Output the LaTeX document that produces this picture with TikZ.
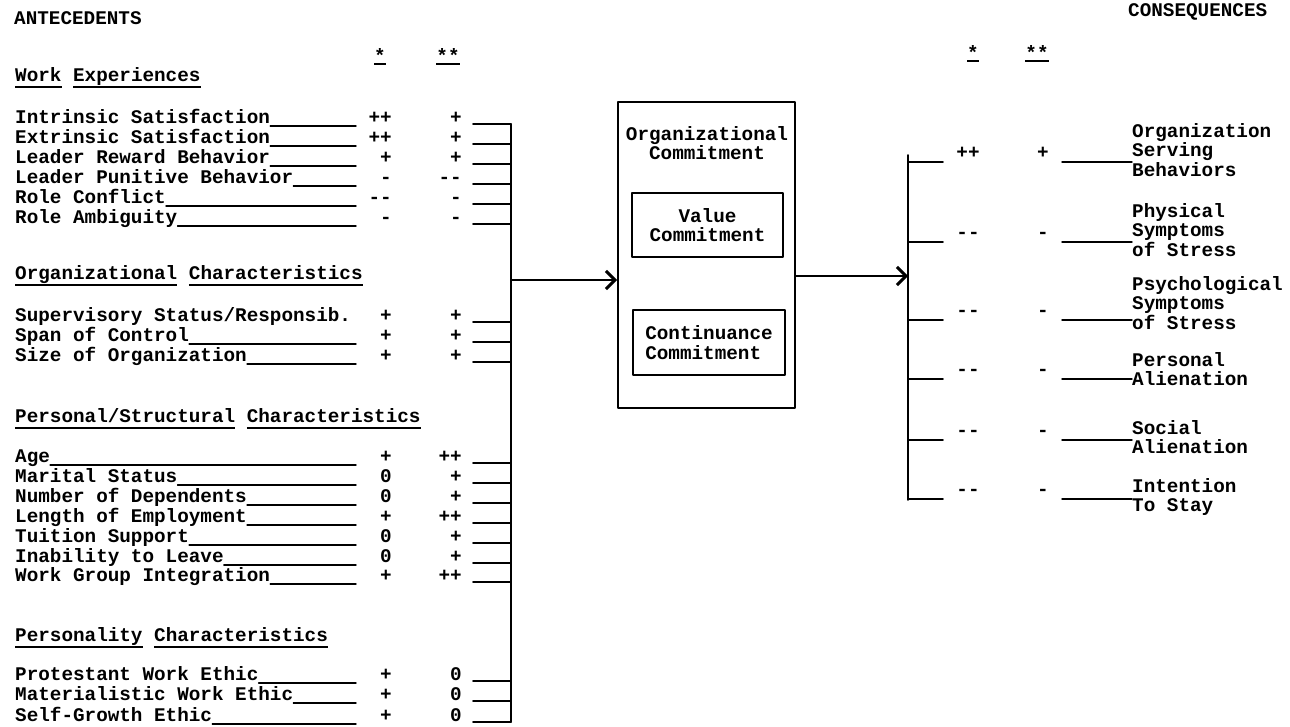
\documentclass[tikz,border=0pt]{standalone}
\usepackage{fontspec}
\setmonofont{Liberation Mono}
\usetikzlibrary{arrows.meta}
% typewriter style underline, one word at a time
\newcommand\uword[2][7pt]{\setbox0\hbox{#2}\rlap{\rule[-#1]{\wd0}{1.6pt}}\box0\relax}
\begin{document}
\begin{tikzpicture}[x=1pt,y=-1pt,line join=round,line cap=round,
	font=\ttfamily\bfseries\fontsize{19.3}{19.5}\selectfont,
	every node/.style={inner sep=0pt},
	lab/.style={anchor=base west},
	val/.style={anchor=base east},
	stub/.style={line width=1.8pt},
	lead/.style={line width=1.4pt},
	box/.style={draw,line width=1.8pt},
	arr/.style={line width=1.8pt,-{Straight Barb[length=9pt,width=18pt,line width=3pt]}}]
	\useasboundingbox (0,0) rectangle (1290,726);
	% Tieu de
	\node[lab] (ante) at (14,24) {ANTECEDENTS};
	\node[lab] (cons) at (1128,16) {CONSEQUENCES};
	\node[anchor=base] (s1) at (380,62) {\uword[3pt]{*}};
	\node[anchor=base] (s2) at (448,62) {\uword[3pt]{**}};
	\node[anchor=base] (s3) at (973,59) {\uword[3pt]{*}};
	\node[anchor=base] (s4) at (1037,59) {\uword[3pt]{**}};
	\node[lab] (g1) at (15,81) {\uword{Work} \uword{Experiences}};
	\node[lab] (g2) at (15,279) {\uword{Organizational} \uword{Characteristics}};
	\node[lab] (g3) at (15,422) {\uword{Personal/Structural} \uword{Characteristics}};
	\node[lab] (g4) at (15,641) {\uword{Personality} \uword{Characteristics}};
	% Cac thanh doc va mui ten
	\path
	(511,124) coordinate (lt)
	(511,722) coordinate (lb)
	(511,280) coordinate (lj)
	(908,155) coordinate (rt)
	(908,500) coordinate (rb)
	(908,276) coordinate (rj);
	\draw[stub] (lt) -- (lb);
	\draw[stub] (rt) -- (rb);
	% Khoi giua
	\node[box,minimum width=177pt,minimum height=306pt] (oc) at (706.5,255) {};
	\node[align=center] (oct) at (707,143) {Organizational\\Commitment};
	\node[box,align=center,minimum width=151pt,minimum height=64pt] (vc) at (707.5,225) {Value\\Commitment};
	\node[box,align=left,minimum width=152pt,minimum height=65pt] (cc) at (709,342.5) {Continuance\\Commitment};
	\draw[arr] (lj) -- (lj -| oc.west);
	\draw[arr] (rj -| oc.east) -- (rj);
	% Ben trai
	\foreach \y/\lab/\a/\b/\u [count=\i] in {
		123/Intrinsic Satisfaction/++/+/1,
		143/Extrinsic Satisfaction/++/+/1,
		163/Leader Reward Behavior/+/+/1,
		183/Leader Punitive Behavior/-/--/1,
		203/Role Conflict/--/-/1,
		223/Role Ambiguity/-/-/1,
		321/{Supervisory Status/Responsib.}/+/+/0,
		341/Span of Control/+/+/1,
		361/Size of Organization/+/+/1,
		462/Age/+/++/1,
		482/Marital Status/0/+/1,
		502/Number of Dependents/0/+/1,
		522/Length of Employment/+/++/1,
		542/Tuition Support/0/+/1,
		562/Inability to Leave/0/+/1,
		581/Work Group Integration/+/++/1,
		680/Protestant Work Ethic/+/0/1,
		700/Materialistic Work Ethic/+/0/1,
		721/Self-Growth Ethic/+/0/1}{
		\node[lab] (l\i) at (15,\y) {\lab};
		\node[val] (a\i) at (392,\y) {\a};
		\node[val] (b\i) at (462,\y) {\b};
		\ifnum\u=1 \draw[lead] ([yshift=-3pt]l\i.base east) -- (356,\y+3); \fi
		\draw[stub] (473,\y+1) -- (lt |- 0,\y+1);
	}
	% Ben phai
	\foreach \y/\a/\b/\lab/\m [count=\i] in {
		162/++/+/{Organization\\Serving\\Behaviors}/150,
		242/--/-/{Physical\\Symptoms\\of Stress}/230,
		320/--/-/{Psychological\\Symptoms\\of Stress}/303,
		379/--/-/{Personal\\Alienation}/369,
		440/--/-/{Social\\Alienation}/437,
		499/--/-/{Intention\\To Stay}/497}{
		\node[anchor=base] (ca\i) at (968,\y-4) {\a};
		\node[anchor=base] (cb\i) at (1043,\y-4) {\b};
		\node[anchor=west,align=left] (cl\i) at (1132,\m) {\lab};
		\draw[stub] (rt |- 0,\y) -- ++(35,0);
		\draw[lead] (cl\i.west |- 0,\y) -- ++(-70,0);
	}
\end{tikzpicture}
\end{document}
